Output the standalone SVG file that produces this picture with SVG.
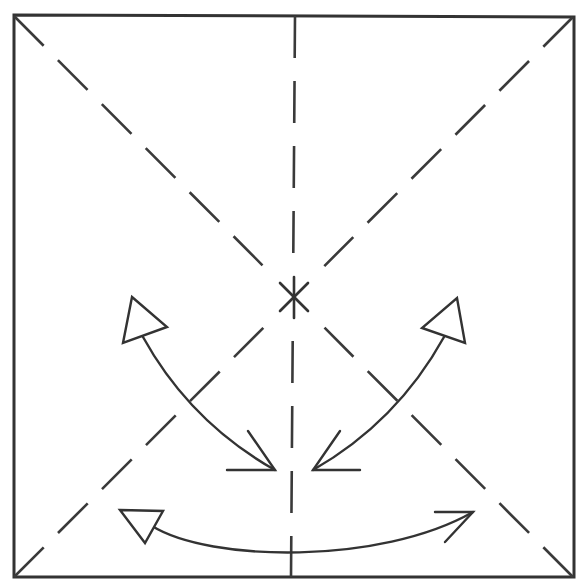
<svg xmlns="http://www.w3.org/2000/svg" width="576" height="582" viewBox="0 0 576 582">
  <style>
    .edge { fill: none; stroke: #333; stroke-width: 3; stroke-linejoin: miter; }
    .crease { fill: none; stroke: #3a3a3a; stroke-width: 2.6; stroke-dasharray: 42 20.2; }
    .vcrease { fill: none; stroke: #3a3a3a; stroke-width: 2.6; stroke-dasharray: 42 23; }
    .arc { fill: none; stroke: #333; stroke-width: 2.4; stroke-linecap: round; }
    .head { fill: #fff; stroke: #333; stroke-width: 2.4; stroke-linejoin: miter; }
    .star { stroke: #333; stroke-width: 2.6; stroke-linecap: round; }
  </style>
  <rect width="576" height="582" fill="#fff"/>

  <g id="paper">
    <polygon class="edge" points="14,15 574,17 574,577 14,577"/>
  </g>

  <g id="creases">
    <line class="crease" x1="14" y1="16" x2="262.5" y2="265.3"/>
    <line class="crease" x1="573" y1="577" x2="324.5" y2="327.7"/>
    <line class="crease" x1="573" y1="17" x2="324.3" y2="266.1"/>
    <line class="crease" x1="14" y1="577" x2="263.3" y2="327.9"/>
    <line class="vcrease" x1="295" y1="16" x2="293.3" y2="254"/>
    <line class="vcrease" x1="292.7" y1="341" x2="291" y2="577"/>
  </g>

  <g id="center-mark">
    <line class="star" x1="294" y1="277" x2="294" y2="318"/>
    <line class="star" x1="280" y1="283" x2="308" y2="311"/>
    <line class="star" x1="308" y1="283" x2="280" y2="311"/>
  </g>

  <g id="connectors">
    <g id="arrow-left">
      <path class="arc" d="M143,337 Q190,422 275,470"/>
      <path class="arc" d="M227,470 L275,470 L248,431"/>
      <polygon class="head" points="132,297 167,327 123,343"/>
    </g>
    <g id="arrow-right">
      <path class="arc" d="M444,337 Q397,422 313,470"/>
      <path class="arc" d="M360,470 L313,470 L340,431"/>
      <polygon class="head" points="457,298 465,343 422,328"/>
    </g>
    <g id="arrow-bottom">
      <path class="arc" d="M152,526 C210,562 380,565 473,512"/>
      <path class="arc" d="M435,512 L473,512 L445,542"/>
      <polygon class="head" points="120,510 163,511 145,543"/>
    </g>
  </g>
</svg>
